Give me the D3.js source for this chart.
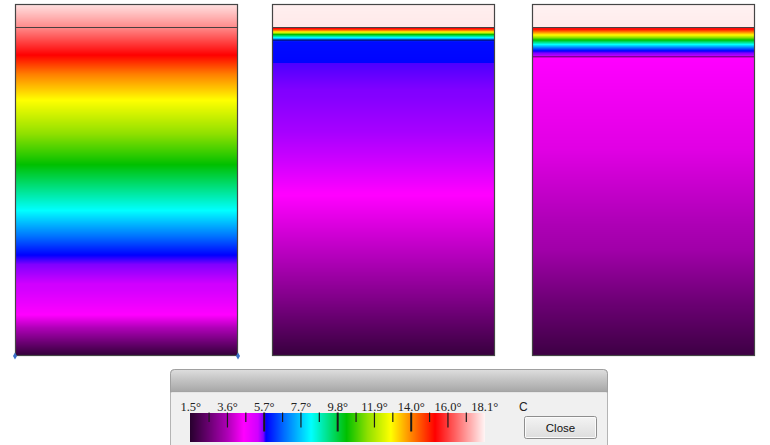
<!DOCTYPE html>
<html><head><meta charset="utf-8">
<script src="https://cdn.jsdelivr.net/npm/d3@7"></script>
<style>html,body{margin:0;padding:0;background:#fff;overflow:hidden}</style>
</head><body><svg id="c" width="770" height="445"></svg>
<script>
// ---- data ----
const colorTemps = [1.5, 2.5, 3.6, 4.5, 5.3, 5.6, 5.75, 6.8, 8.3, 9.3, 10.3, 11.5, 12.8, 14.0, 15.3, 16.6, 18.1];
const colorHex = ["#2a0030","#680070","#b000b8","#ff00ff","#d000ff","#8000ff","#0000ff","#0070ff","#00ffff","#00e080","#00c000","#90e000","#ffff00","#ff8000","#ff0000","#ff7070","#fff4f4"];

const maxDepth = 30;
const surfaceDepth = 2;

const profile1Depths = [0, 2, 4.35, 6.0, 8.2, 13.7, 17.6, 21.4, 22.2, 24.4, 26.5, 30];
const profile1Temps  = [17.9, 16.9, 15.3, 14.0, 12.8, 10.3, 8.3, 5.75, 5.6, 5.2, 4.5, 1.6];

const profile2Depths = [0, 2, 2.09, 2.26, 2.39, 2.6, 2.86, 3.11, 3.24, 5.03, 5.07, 8.0, 11.0, 13.5, 16.0, 21.8, 25.2, 30];
const profile2Temps  = [18.05, 17.97, 15.3, 14.0, 12.8, 10.3, 8.3, 6.1, 5.85, 5.78, 5.66, 5.58, 5.45, 5.3, 4.55, 3.6, 2.85, 1.7];

const profile3Depths = [0, 2, 2.02, 2.13, 2.39, 2.64, 3.07, 3.45, 3.75, 4.0, 4.3, 4.47, 4.56, 12.44, 20.97, 25.23, 30];
const profile3Temps  = [18.08, 18.0, 15.6, 15.3, 14.0, 12.8, 10.3, 8.3, 6.8, 5.75, 5.5, 5.3, 4.5, 4.15, 3.36, 2.6, 1.8];

const profile2Breaks = [3.08];
const profile3Breaks = [4.5];
const selectedProfile = 0;

const legendMin = 1.5, legendMax = 18.1;
const legendLabels = ["1.5°","3.6°","5.7°","7.7°","9.8°","11.9°","14.0°","16.0°","18.1°"];
const legendUnit = "C";
const buttonLabel = "Close";

const profiles = [
  {depths: profile1Depths, temps: profile1Temps, breaks: []},
  {depths: profile2Depths, temps: profile2Temps, breaks: profile2Breaks},
  {depths: profile3Depths, temps: profile3Temps, breaks: profile3Breaks}
];

// ---- scales ----
const svg = d3.select("#c");
const color = d3.scaleLinear().domain(colorTemps).range(colorHex).interpolate(d3.interpolateRgb).clamp(true);
const x = d3.scaleBand().domain(d3.range(profiles.length)).range([15, 755]).paddingInner(0.1373).paddingOuter(0);
const y = d3.scaleLinear().domain([0, maxDepth]).range([4, 356]);

// ---- columns ----
profiles.forEach((p, i) => {
  const prof = d3.scaleLinear().domain(p.depths).range(p.temps).clamp(true);
  const g = svg.append("g");
  const x0 = x(i) - (i === 1 ? 1.5 : 0), w = x.bandwidth();
  const rows = d3.range(Math.round(y(0)), Math.round(y(maxDepth)));
  g.selectAll("rect.row").data(rows).join("rect")
    .attr("class","row")
    .attr("x", x0).attr("y", d => d).attr("width", w).attr("height", 1)
    .attr("shape-rendering","crispEdges")
    .attr("fill", d => color(prof(y.invert(d + 0.5))));
  p.breaks.forEach(b => {
    g.append("line").attr("x1", x0).attr("x2", x0 + w).attr("y1", y(b)).attr("y2", y(b))
      .attr("stroke", "#000").attr("stroke-opacity", 0.4).attr("stroke-width", 1.6);
  });
  g.append("line").attr("x1", x0).attr("x2", x0 + w)
    .attr("y1", Math.round(y(surfaceDepth)) + 0.5).attr("y2", Math.round(y(surfaceDepth)) + 0.5)
    .attr("stroke", "#4a4040").attr("stroke-width", 1.2);
  g.append("rect").attr("x", x0 + 0.5).attr("y", y(0) + 0.5).attr("width", w - 1).attr("height", y(maxDepth) - y(0) - 1)
    .attr("fill", "none").attr("stroke", "#454545").attr("stroke-width", 1.2);
  if (i === selectedProfile) {
    [x0, x0 + w].forEach(cx => {
      g.append("path").attr("d", d3.symbol(d3.symbolDiamond, 14)())
        .attr("transform", `translate(${cx},${y(maxDepth)})`).attr("fill", "#3a70c8");
    });
  }
});

// ---- legend window ----
const win = svg.append("g");
const defs = svg.append("defs");
const tg = defs.append("linearGradient").attr("id","tbar").attr("x1",0).attr("x2",0).attr("y1",0).attr("y2",1);
tg.append("stop").attr("offset","0%").attr("stop-color","#dedede");
tg.append("stop").attr("offset","45%").attr("stop-color","#c4c4c4");
tg.append("stop").attr("offset","100%").attr("stop-color","#a6a6a6");
const bg = defs.append("linearGradient").attr("id","btn").attr("x1",0).attr("x2",0).attr("y1",0).attr("y2",1);
bg.append("stop").attr("offset","0%").attr("stop-color","#f4f4f4");
bg.append("stop").attr("offset","100%").attr("stop-color","#dcdcdc");

const wx0 = 170.5, wx1 = 607.5, wy0 = 369.5, tbH = 22.5;
win.append("rect").attr("x", wx0).attr("y", wy0).attr("width", wx1 - wx0).attr("height", 90).attr("rx", 4)
  .attr("fill", "#f0f0f0").attr("stroke", "#b4b4b4");
win.append("path").attr("d", `M${wx0},${wy0+tbH} V${wy0+4} Q${wx0},${wy0} ${wx0+4},${wy0} H${wx1-4} Q${wx1},${wy0} ${wx1},${wy0+4} V${wy0+tbH} Z`)
  .attr("fill", "url(#tbar)").attr("stroke", "#a0a0a0");
win.append("line").attr("x1", wx0 + 1).attr("x2", wx1 - 1).attr("y1", wy0 + tbH + 0.5).attr("y2", wy0 + tbH + 0.5).attr("stroke", "#e6e6e6");

const lx = d3.scaleLinear().domain([legendMin, legendMax]).range([190.7, 484.7]);
const barY = 412.5, barH = 29.5;
const cols = d3.range(Math.floor(lx(legendMin)), Math.ceil(lx(legendMax)));
win.selectAll("rect.lc").data(cols).join("rect").attr("class","lc")
  .attr("x", d => d).attr("y", barY).attr("width", 1).attr("height", barH)
  .attr("shape-rendering","crispEdges")
  .attr("fill", d => color(lx.invert(d + 0.5)));

const step = (legendMax - legendMin) / 16;
const tickIdx = d3.range(1, 16);
win.selectAll("line.tk").data(tickIdx).join("line").attr("class","tk")
  .attr("x1", k => lx(legendMin + k * step)).attr("x2", k => lx(legendMin + k * step))
  .attr("y1", barY)
  .attr("y2", k => barY + (k % 4 === 0 ? 19 : k % 2 === 0 ? 15 : 9.5))
  .attr("stroke", "#1a1a1a")
  .attr("stroke-width", k => k % 4 === 0 ? 2 : 1.2);

win.selectAll("text.tl").data(legendLabels).join("text").attr("class","tl")
  .attr("x", (d, i) => lx(legendMin + i * 2 * step))
  .attr("y", 410.5)
  .attr("text-anchor", "middle")
  .attr("font-family", "'Liberation Serif', serif").attr("font-size", 12.5).attr("fill", "#222")
  .text(d => d);

win.append("text").attr("x", 519).attr("y", 410.5)
  .attr("font-family", "'Liberation Sans', Arial, sans-serif").attr("font-size", 12).attr("fill", "#222")
  .text(legendUnit);

win.append("rect").attr("x", 524.5).attr("y", 416.5).attr("width", 72).attr("height", 22).attr("rx", 2)
  .attr("fill", "url(#btn)").attr("stroke", "#8e8e8e");
win.append("rect").attr("x", 525.5).attr("y", 417.5).attr("width", 70).attr("height", 20).attr("rx", 1)
  .attr("fill", "none").attr("stroke", "#fbfbfb");
win.append("text").attr("x", 560.5).attr("y", 431.5).attr("text-anchor", "middle")
  .attr("font-family", "'Liberation Sans', Arial, sans-serif").attr("font-size", 11.5).attr("fill", "#111")
  .text(buttonLabel);
</script></body></html>
